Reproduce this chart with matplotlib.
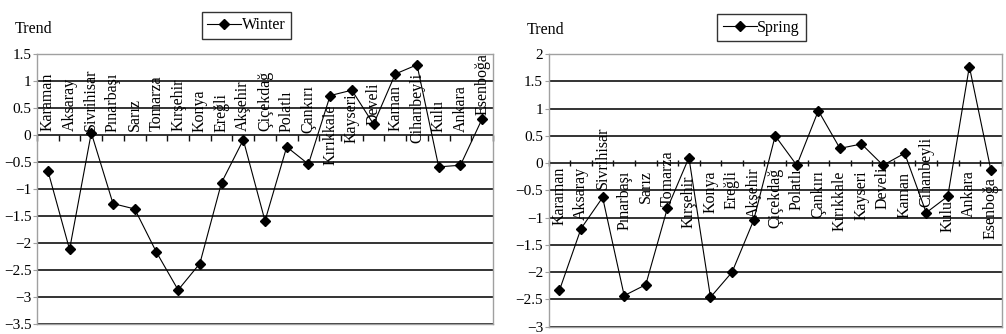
import matplotlib
matplotlib.use("Agg")
import matplotlib.pyplot as plt
import numpy as np
from matplotlib.ticker import FuncFormatter, MultipleLocator, FixedLocator

plt.rcParams['font.family'] = ['Liberation Serif', 'DejaVu Serif']

stations_winter = ["Karaman", "Aksaray", "Sivrihisar", "Pınarbaşı", "Sarız", "Tomarza",
                   "Kırşehir", "Konya", "Ereğli", "Akşehir", "Çiçekdağ", "Polatlı",
                   "Çankırı", "Kırıkkale", "Kayseri", "Develi", "Kaman", "Cihanbeyli",
                   "Kulu", "Ankara", "Esenboğa"]
stations_spring = list(stations_winter)

winter = [-0.66, -2.12, 0.04, -1.27, -1.37, -2.17, -2.87, -2.38, -0.88, -0.09,
          -1.59, -0.22, -0.54, 0.73, 0.83, 0.20, 1.13, 1.30, -0.59, -0.56, 0.30]
spring = [-2.33, -1.20, -0.63, -2.43, -2.23, -0.83, 0.10, -2.46, -2.00, -1.05,
          0.50, -0.04, 0.96, 0.27, 0.35, -0.04, 0.18, -0.91, -0.61, 1.77, -0.13]

# label anchor positions (data units): winter = label bottom, spring = label top
winter_label_y = [0.07, 0.07, 0.07, 0.05, 0.07, 0.07, 0.07, 0.06, 0.06, 0.07,
                  0.07, 0.06, 0.04, -0.56, -0.15, 0.19, 0.07, -0.15, 0.06, 0.06, 0.37]
spring_label_y = [-0.07, -0.07, 0.67, -0.13, -0.13, 0.24, -0.22, -0.13, -0.13, -0.07,
                  -0.09, -0.09, -0.13, -0.13, -0.13, -0.07, -0.16, 0.48, -0.68, -0.13, -0.25]

fig = plt.figure(figsize=(10.06, 3.34), dpi=100)

FRAME = '#a0a0a0'

def fmt(v, pos):
    s = '%g' % v
    return s.replace('-', '\u2212')

def make_panel(rect, names, vals, label_y, ylim, name, tick_dir, label_va, leg_center):
    ax = fig.add_axes(rect)
    x = np.arange(len(names))
    ax.plot(x, vals, color='black', lw=0.8, marker='D', ms=4.6,
            markerfacecolor='black', markeredgecolor='black', label=name, zorder=4)
    ax.set_xlim(-0.5, len(names) - 0.5)
    ax.set_ylim(*ylim)
    ax.yaxis.set_major_locator(MultipleLocator(0.5))
    ax.yaxis.set_major_formatter(FuncFormatter(fmt))
    ax.set_axisbelow(True)
    ax.yaxis.grid(True, color='#111111', lw=1.2)
    ax.set_xticks([])
    for sp in ax.spines.values():
        sp.set_color(FRAME)
        sp.set_linewidth(1.0)
        sp.set_zorder(3)
    ax.tick_params(axis='y', length=3, width=0.8, color=FRAME, labelsize=11, pad=1,
                   labelcolor='black')
    # category axis at zero
    sec = ax.secondary_xaxis(0, transform=ax.transData)
    sec.xaxis.set_major_locator(FixedLocator(np.arange(len(names) + 1) - 0.5))
    sec.tick_params(axis='x', direction=tick_dir, length=4, width=1.0, color='#111111',
                    labelbottom=False)
    sec.spines['bottom'].set_visible(False)
    for i, (n, ly) in enumerate(zip(names, label_y)):
        ax.text(i, ly, n, rotation=90, ha='center', va=label_va, fontsize=11.5,
                color='black', zorder=2)
    leg = ax.legend(loc='center', bbox_to_anchor=leg_center, bbox_transform=fig.transFigure,
                    fancybox=False, frameon=True, edgecolor='black', fontsize=11.5,
                    handlelength=2.1, handletextpad=0.05, borderpad=0.35,
                    borderaxespad=0)
    leg.get_frame().set_linewidth(1.0)
    return ax

W, H = 1006, 334
make_panel([37 / W, 1 - 324 / H, 456 / W, 270 / H], stations_winter, winter, winter_label_y,
           (-3.5, 1.5), 'Winter', 'out', 'bottom', (246.4 / W, 1 - 25.2 / H))
make_panel([548.7 / W, 1 - 326.7 / H, 453 / W, 272.7 / H], stations_spring, spring, spring_label_y,
           (-3, 2), 'Spring', 'inout', 'top', (761.5 / W, 1 - 27.9 / H))

fig.text(15 / W, 1 - 33 / H, 'Trend', fontsize=11.5, va='baseline', ha='left')
fig.text(527 / W, 1 - 34 / H, 'Trend', fontsize=11.5, va='baseline', ha='left')

fig.savefig('out.png', dpi=100)
